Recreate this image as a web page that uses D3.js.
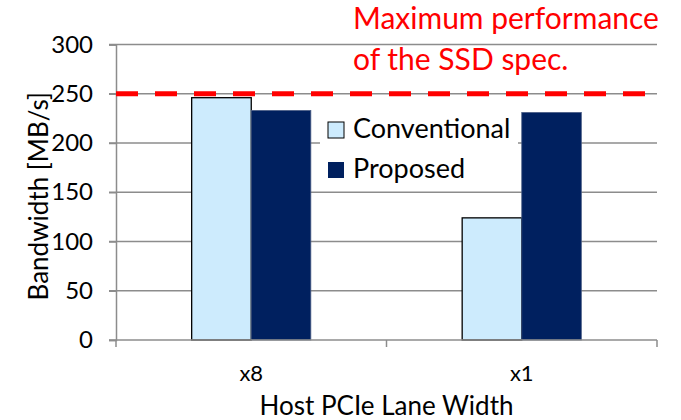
<!DOCTYPE html>
<html>
<head>
<meta charset="utf-8">
<script src="https://cdn.jsdelivr.net/npm/d3@7"></script>
<style>
  body { margin: 0; background: #fff; }
  text { font-family: Lato, "Open Sans", sans-serif; }
</style>
</head>
<body>
<div id="the_chart"></div>
<script>
var categories = ["x8", "x1"];
var series = ["Conventional", "Proposed"];
var conventional = [246, 124];
var proposed = [233, 231];
var yTicks = [0, 50, 100, 150, 200, 250, 300];
var specLimit = 250;

var colors = {"Conventional": "#cdebfd", "Proposed": "#00205f"};

var w = 681, h = 420;
var pLeft = 116, pRight = 657, pTop = 44.5, pBottom = 340;

var svg = d3.select("#the_chart")
            .append("svg")
            .attr("width", w)
            .attr("height", h);

var yscale = d3.scaleLinear()
               .domain([0, 300])
               .range([pBottom, pTop]);

var xscale = d3.scaleBand()
               .domain(categories)
               .range([pLeft, pRight])
               .paddingInner(0)
               .paddingOuter(0);

// two bars of ~59px each, centred in the category
var inner = d3.scaleBand()
              .domain(series)
              .range([0, xscale.bandwidth()])
              .paddingOuter(1.27);

// gridlines
svg.append("g")
   .selectAll("line")
   .data(yTicks.slice(1))
   .enter().append("line")
   .attr("x1", pLeft - 7)
   .attr("x2", pRight)
   .attr("y1", function(d) { return yscale(d); })
   .attr("y2", function(d) { return yscale(d); })
   .attr("stroke", "#8c8c8c")
   .attr("stroke-width", 1.5);

// y axis
var yaxis = d3.axisLeft(yscale)
              .tickValues(yTicks)
              .tickSize(7)
              .tickPadding(16);
var gY = svg.append("g")
   .attr("transform", "translate(" + pLeft + ",0)")
   .call(yaxis);
gY.select(".domain").attr("stroke", "#8c8c8c").attr("stroke-width", 1.5);
gY.selectAll(".tick line").attr("stroke", "#8c8c8c").attr("stroke-width", 1.5);
gY.selectAll(".tick text")
  .attr("font-size", 24)
  .attr("fill", "#000")
  .style("font-family", "Lato, sans-serif");

// x axis labels
var xaxis = d3.axisBottom(xscale)
              .tickSize(0)
              .tickPadding(25);
var gX = svg.append("g")
   .attr("transform", "translate(0," + pBottom + ")")
   .call(xaxis);
gX.select(".domain").remove();
gX.selectAll(".tick text")
  .attr("font-size", 22)
  .attr("fill", "#000")
  .style("font-family", "Lato, sans-serif");

// bars
var rows = categories.map(function(c, i) {
  return {cat: c, values: [
    {key: "Conventional", value: conventional[i]},
    {key: "Proposed", value: proposed[i]}
  ]};
});

svg.selectAll("g.group")
   .data(rows)
   .enter().append("g")
   .attr("class", "group")
   .attr("transform", function(d) { return "translate(" + xscale(d.cat) + ",0)"; })
   .selectAll("rect")
   .data(function(d) { return d.values; })
   .enter().append("rect")
   .attr("x", function(d) { return inner(d.key); })
   .attr("width", inner.bandwidth())
   .attr("y", function(d) { return yscale(d.value); })
   .attr("height", function(d) { return yscale(0) - yscale(d.value); })
   .attr("fill", function(d) { return colors[d.key]; })
   .attr("stroke", function(d) { return d.key == "Conventional" ? "#000" : "#4a5d85"; })
   .attr("stroke-width", function(d) { return d.key == "Conventional" ? 1.3 : 0.8; });

// x axis line + ticks on top of bars
svg.append("line")
   .attr("x1", pLeft - 7).attr("x2", pRight)
   .attr("y1", pBottom).attr("y2", pBottom)
   .attr("stroke", "#8c8c8c").attr("stroke-width", 1.5);
svg.append("g")
   .selectAll("line")
   .data([pLeft, xscale("x1"), pRight])
   .enter().append("line")
   .attr("x1", function(d) { return d; })
   .attr("x2", function(d) { return d; })
   .attr("y1", pBottom)
   .attr("y2", pBottom + 7)
   .attr("stroke", "#8c8c8c").attr("stroke-width", 1.5);

// spec limit line
svg.append("line")
   .attr("x1", pLeft)
   .attr("x2", 649)
   .attr("y1", yscale(specLimit))
   .attr("y2", yscale(specLimit))
   .attr("stroke", "#ff0000")
   .attr("stroke-width", 5)
   .attr("stroke-dasharray", "22,17");

svg.append("text")
   .attr("x", 353).attr("y", 29)
   .attr("font-size", 30)
   .attr("fill", "#ff0000")
   .text("Maximum performance");
svg.append("text")
   .attr("x", 353).attr("y", 70)
   .attr("font-size", 30)
   .attr("fill", "#ff0000")
   .text("of the SSD spec.");

// legend
var legend = svg.append("g");
legend.append("rect")
   .attr("x", 320).attr("y", 112)
   .attr("width", 198).attr("height", 72)
   .attr("fill", "#fff");
series.forEach(function(s, i) {
  var base = 138 + i * 40;
  legend.append("rect")
     .attr("x", 328).attr("y", base - 16)
     .attr("width", 16).attr("height", 16)
     .attr("fill", colors[s])
     .attr("stroke", s == "Conventional" ? "#000" : "none")
     .attr("stroke-width", 1);
  legend.append("text")
     .attr("x", 353).attr("y", base)
     .attr("font-size", 27)
     .text(s);
});

// axis titles
svg.append("text")
   .attr("transform", "translate(48," + ((pTop + pBottom) / 2 + 4) + ") rotate(-90)")
   .attr("text-anchor", "middle")
   .attr("font-size", 26)
   .text("Bandwidth [MB/s]");
svg.append("text")
   .attr("x", (pLeft + pRight) / 2)
   .attr("y", 415)
   .attr("text-anchor", "middle")
   .attr("font-size", 26)
   .text("Host PCIe Lane Width");
</script>
</body>
</html>
